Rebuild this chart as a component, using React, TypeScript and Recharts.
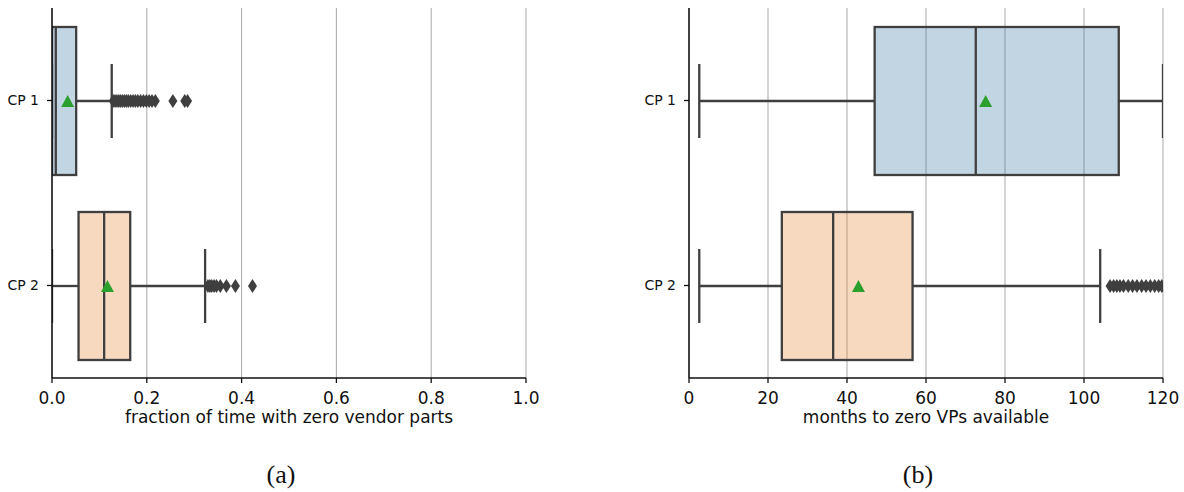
import React from 'react';
import { Bar, CartesianGrid, ComposedChart, XAxis, YAxis } from 'recharts';

const categories = ['CP 1', 'CP 2'];

// (a) fraction of time with zero vendor parts
const fracLow = [0, 0];
const fracQ1 = [0, 0.056];
const fracMedian = [0.008, 0.11];
const fracQ3 = [0.051, 0.165];
const fracHigh = [0.126, 0.323];
const fracMean = [0.033, 0.117];
const fracOutliers = [
  [0.129, 0.133, 0.137, 0.141, 0.145, 0.149, 0.153, 0.157, 0.161, 0.166, 0.171, 0.176, 0.181, 0.187, 0.193, 0.199, 0.205, 0.211, 0.218, 0.255, 0.28, 0.286],
  [0.329, 0.333, 0.337, 0.342, 0.347, 0.355, 0.368, 0.387, 0.423],
];
const fracTicks = [0, 0.2, 0.4, 0.6, 0.8, 1.0];

// (b) months to zero VPs available
const monthLow = [2.6, 2.6];
const monthQ1 = [47.0, 23.5];
const monthMedian = [72.6, 36.5];
const monthQ3 = [108.8, 56.6];
const monthHigh = [120, 104.1];
const monthMean = [75.1, 42.9];
const monthOutliers = [
  [],
  [106.6, 107.5, 108.3, 109.1, 110.0, 111.2, 112.3, 113.4, 114.6, 115.7, 116.8, 117.9, 118.9, 119.7],
];
const monthTicks = [0, 20, 40, 60, 80, 100, 120];

const BOX_COLORS = ['#3274a1', '#e1812c'];
const EDGE = '#3f3f3f';
const SPINE = '#111';
const FONT = '"DejaVu Sans", sans-serif';
const LW = 2.3;

function buildRows(
  id: string,
  low: number[],
  q1: number[],
  median: number[],
  q3: number[],
  high: number[],
  mean: number[],
  outliers: number[][],
) {
  return categories.map((name, i) => ({
    id: `${id}-${i}`,
    name,
    color: BOX_COLORS[i],
    low: low[i],
    q1: q1[i],
    median: median[i],
    q3: q3[i],
    high: high[i],
    mean: mean[i],
    outliers: outliers[i],
  }));
}

const fracRows = buildRows('frac', fracLow, fracQ1, fracMedian, fracQ3, fracHigh, fracMean, fracOutliers);
const monthRows = buildRows('month', monthLow, monthQ1, monthMedian, monthQ3, monthHigh, monthMean, monthOutliers);

// bar spans low..high whisker; everything else is placed on the same scale
function BoxShape(props: any) {
  const { x, y, width, height, payload, background } = props;
  if (!payload) return null;
  const k = width / (payload.high - payload.low);
  const px = (v: number) => x + (v - payload.low) * k;
  const cy = y + height / 2;
  const cap = height / 4;
  const clipId = `clip-${payload.id}`;
  const bx = px(payload.q1);
  const bw = px(payload.q3) - bx;
  const mx = px(payload.mean);
  return (
    <g>
      {background && (
        <defs>
          <clipPath id={clipId}>
            <rect x={background.x} y={cy - height} width={background.width} height={height * 2} />
          </clipPath>
        </defs>
      )}
      <g clipPath={background ? `url(#${clipId})` : undefined}>
        <rect x={bx} y={y} width={bw} height={height} fill={payload.color} fillOpacity={0.3} stroke={EDGE} strokeWidth={LW} />
        <line x1={px(payload.low)} x2={bx} y1={cy} y2={cy} stroke={EDGE} strokeWidth={LW} />
        <line x1={bx + bw} x2={px(payload.high)} y1={cy} y2={cy} stroke={EDGE} strokeWidth={LW} />
        <line x1={px(payload.low)} x2={px(payload.low)} y1={cy - cap} y2={cy + cap} stroke={EDGE} strokeWidth={LW} />
        <line x1={px(payload.high)} x2={px(payload.high)} y1={cy - cap} y2={cy + cap} stroke={EDGE} strokeWidth={LW} />
        <line x1={px(payload.median)} x2={px(payload.median)} y1={y} y2={y + height} stroke={EDGE} strokeWidth={LW} />
        {payload.outliers.map((v: number, i: number) => {
          const ox = px(v);
          return (
            <polygon
              key={i}
              points={`${ox},${cy - 7} ${ox + 4.5},${cy} ${ox},${cy + 7} ${ox - 4.5},${cy}`}
              fill={EDGE}
            />
          );
        })}
        <polygon points={`${mx},${cy - 6} ${mx + 6.5},${cy + 6} ${mx - 6.5},${cy + 6}`} fill="#2ca02c" />
      </g>
    </g>
  );
}

function BoxPanel({
  rows,
  ticks,
  domain,
  label,
  width,
  rightMargin,
  format,
}: {
  rows: any[];
  ticks: number[];
  domain: [number, number];
  label: string;
  width: number;
  rightMargin: number;
  format: (v: number) => string;
}) {
  return (
    <ComposedChart
      width={width}
      height={440}
      layout="vertical"
      data={rows}
      margin={{ top: 8, right: rightMargin, left: 0, bottom: 0 }}
      style={{ fontFamily: FONT }}
    >
      <CartesianGrid horizontal={false} stroke="#b0b0b0" strokeWidth={1.1} />
      <XAxis
        type="number"
        domain={domain}
        ticks={ticks}
        tickFormatter={format}
        allowDataOverflow
        height={62}
        tickSize={5}
        tickMargin={9}
        tick={{ fill: '#111', fontSize: 17 }}
        tickLine={{ stroke: SPINE, strokeWidth: 1.3 }}
        axisLine={{ stroke: SPINE, strokeWidth: 1.5 }}
        label={{ value: label, position: 'insideBottom', offset: 17, fill: '#111', fontSize: 17 }}
      />
      <XAxis
        xAxisId="top"
        orientation="top"
        type="number"
        domain={domain}
        height={0}
        tick={false}
        tickLine={false}
        axisLine={{ stroke: SPINE, strokeWidth: 1.5 }}
      />
      <YAxis
        type="category"
        dataKey="name"
        width={52}
        tickSize={5}
        tickMargin={8}
        tick={{ fill: '#111', fontSize: 14 }}
        tickLine={{ stroke: SPINE, strokeWidth: 1.3 }}
        axisLine={{ stroke: SPINE, strokeWidth: 1.5 }}
      />
      <YAxis
        yAxisId="right"
        orientation="right"
        type="number"
        domain={[0, 1]}
        width={0}
        tick={false}
        tickLine={false}
        axisLine={{ stroke: SPINE, strokeWidth: 1.5 }}
      />
      <Bar
        dataKey={(d: any) => [d.low, d.high]}
        barSize={148}
        shape={BoxShape}
        isAnimationActive={false}
      />
    </ComposedChart>
  );
}

const captionStyle: React.CSSProperties = {
  position: 'absolute',
  top: 460,
  width: 100,
  textAlign: 'center',
  fontFamily: '"Liberation Serif", serif',
  fontSize: 26,
  lineHeight: '30px',
  color: '#111',
};

export default function App() {
  return (
    <div style={{ position: 'absolute', left: 0, top: 0, width: 1184, height: 492, background: '#fff' }}>
      <div style={{ position: 'absolute', left: 0, top: 0 }}>
        <BoxPanel
          rows={fracRows}
          ticks={fracTicks}
          domain={[0, 1]}
          label="fraction of time with zero vendor parts"
          width={560}
          rightMargin={34}
          format={(v) => v.toFixed(1)}
        />
      </div>
      <div style={{ position: 'absolute', left: 637, top: 0 }}>
        <BoxPanel
          rows={monthRows}
          ticks={monthTicks}
          domain={[0, 120]}
          label="months to zero VPs available"
          width={547}
          rightMargin={21}
          format={(v) => String(v)}
        />
      </div>
      <div style={{ ...captionStyle, left: 231 }}>(a)</div>
      <div style={{ ...captionStyle, left: 868 }}>(b)</div>
    </div>
  );
}
